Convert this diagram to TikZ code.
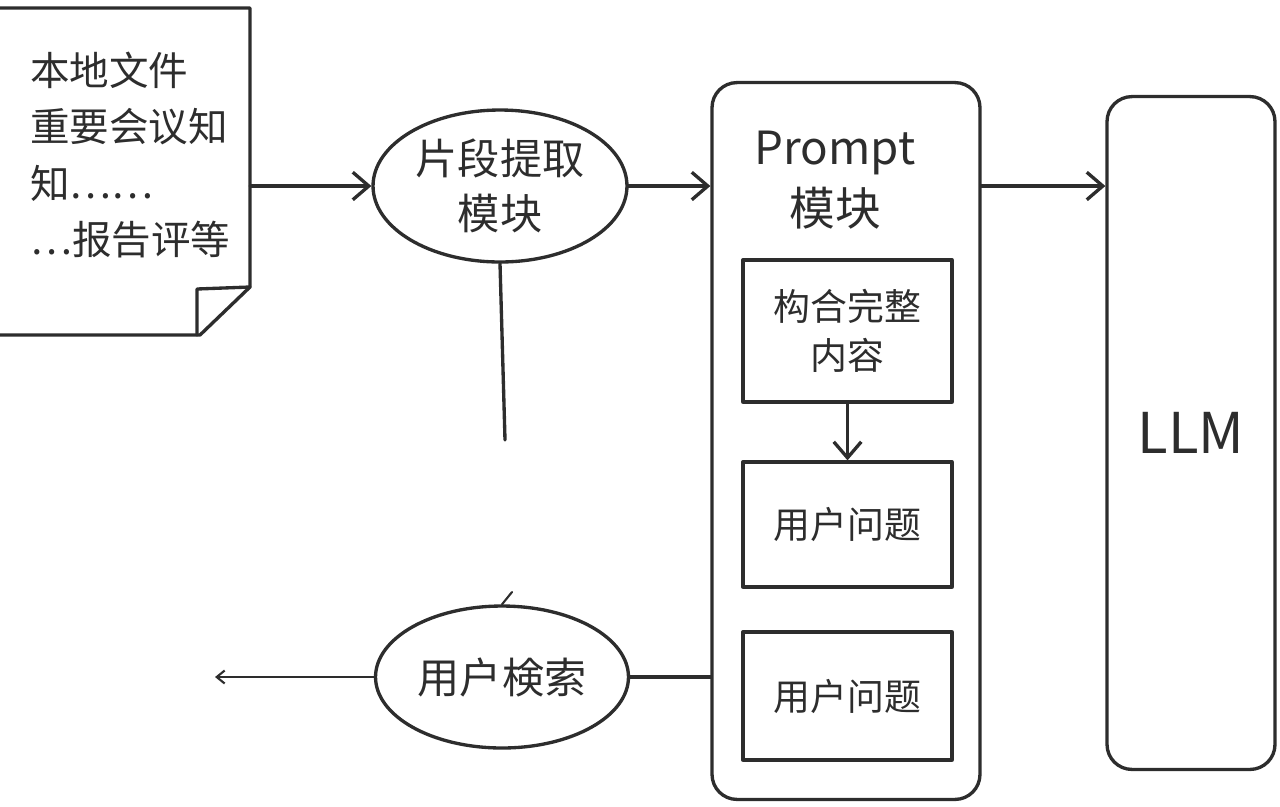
\documentclass[tikz,border=0pt]{standalone}
\usepackage{fontspec}
\setmainfont{Noto Sans CJK SC}
\usepackage{xcolor}
\usetikzlibrary{arrows.meta,positioning,shapes.geometric}
\definecolor{ink}{RGB}{45,45,45}

\begin{document}
\begin{tikzpicture}[
  x=0.02cm, y=-0.02cm,
  every node/.style={text=ink},
  sketch/.style={draw=ink, line width=1.9pt, line join=round, line cap=round},
  arr/.style={sketch, -{Straight Barb[length=3.2mm, width=5.5mm, line width=1.9pt]}},
  thinarr/.style={sketch, line width=1.2pt, -{Straight Barb[length=1.6mm, width=2.6mm, line width=1.2pt]}},
  oval/.style={sketch, ellipse, inner sep=0pt, align=center, font=\fontsize{24}{31}\selectfont},
  inbox/.style={sketch, rectangle, inner sep=0pt, minimum width=4.18cm, align=center, font=\fontsize{21}{28}\selectfont},
  panel/.style={sketch, rectangle, rounded corners=0.5cm, inner sep=0pt}
]
  \useasboundingbox (0,0) rectangle (1280,806);

  % document on the left
  \node (doc) [rectangle, inner sep=0pt, minimum width=5cm, minimum height=6.54cm] at (125,171.5) {};
  \draw[sketch] (0,8) -- (250,8) -- (250,287) -- (200,335) -- (0,335);
  \draw[sketch] (250,287) -- (197,289) -- (197,335);
  \node (doctext) [anchor=west, inner sep=0pt, align=left, font=\fontsize{22.5}{32}\selectfont] at (30,155)
    {本地文件\\重要会议知\\知……\\…报告评等};

  % extraction and search
  \node (ex) [oval, minimum width=5.08cm, minimum height=3.04cm] at (500,186) {片段提取\\模块};
  \node (srch) [oval, minimum width=5.06cm, minimum height=2.84cm] at (502,677) {用户検索};

  % prompt module
  \node (prompt) [panel, minimum width=5.36cm, minimum height=14.34cm] at (846,441) {};
  \node (ptitle) [align=center, font=\fontsize{26}{35}\selectfont] at (835,180) {Prompt\\模块};
  \node (box1) [inbox, minimum height=2.84cm] at (847.5,331) {构合完整\\内容};
  \node (box2) [inbox, minimum height=2.5cm] at (847.5,524.5) {用户问题};
  \node (box3) [inbox, minimum height=2.56cm] at (847.5,696) {用户问题};

  % model
  \node (llm) [panel, minimum width=3.36cm, minimum height=13.46cm,
    font=\fontsize{32}{38}\selectfont] at (1191,433) {LLM};

  \coordinate (exEnd) at (505,440);
  \coordinate (srchEnd) at (215,677);
  \coordinate (tick) at (512,592);

  \draw[arr] (doc.east |- ex.west) -- (ex.west);
  \draw[arr] (ex.east) -- (ex.east -| prompt.west);
  \draw[arr] (prompt.east |- ex.east) -- (llm.west |- ex.east);
  \draw[arr] (box1.south) -- (box2.north);
  \draw[sketch] (ex.south) -- (exEnd);
  \draw[sketch] (prompt.west |- srch.east) -- (srch.east);
  \draw[thinarr] (srch.west) -- (srchEnd);
  \draw[sketch, line width=1.2pt] (tick) -- (srch.north);
\end{tikzpicture}
\end{document}
